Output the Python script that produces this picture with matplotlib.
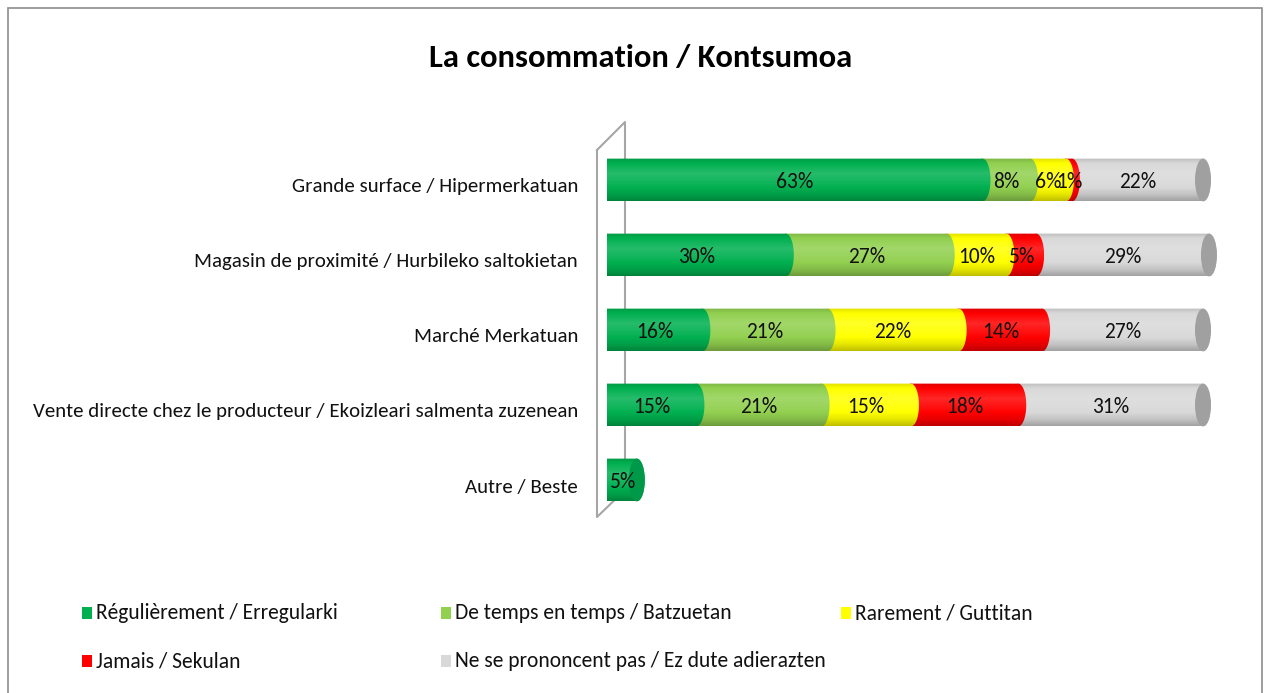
import numpy as np
import matplotlib.pyplot as plt
from matplotlib.patches import Polygon, Ellipse, Rectangle
from matplotlib.lines import Line2D
from matplotlib.colors import to_rgb

plt.rcParams['font.family'] = ['Carlito', 'Asap Condensed', 'DejaVu Sans']

# Data
categories = [
    "Grande surface / Hipermerkatuan",
    "Magasin de proximité / Hurbileko saltokietan",
    "Marché Merkatuan",
    "Vente directe chez le producteur / Ekoizleari salmenta zuzenean",
    "Autre / Beste",
]
series_names = [
    "Régulièrement / Erregularki",
    "De temps en temps / Batzuetan",
    "Rarement / Guttitan",
    "Jamais / Sekulan",
    "Ne se prononcent pas / Ez dute adierazten",
]
regulierement = [63, 30, 16, 15, 5]
de_temps = [8, 27, 21, 21, 0]
rarement = [6, 10, 22, 15, 0]
jamais = [1, 5, 14, 18, 0]
nsp = [22, 29, 27, 31, 0]
series_values = [regulierement, de_temps, rarement, jamais, nsp]
colors = ["#00B050", "#92D050", "#FFFF00", "#FF0000", "#D9D9D9"]
face_colors = ["#00994A", "#7DBB40", "#E0E000", "#D00000", "#A0A0A0"]

W, H = 1266, 693
fig = plt.figure(figsize=(W / 100, H / 100), dpi=100)

def fx(px):
    return px / W

def fy(py):
    return 1 - py / H

# axes: 0% at x=607px, 5.96px per %, rows 75px apart centred at 180px
px_per = 5.96
xmax = 104
ax = fig.add_axes([fx(607), fy(517.5), xmax * px_per / W, 375 / H])
ax.axis("off")

bar_h = 0.57
hh = bar_h / 2
rx = 8 / px_per  # cap radius in data units

# vertical shading profile of the cylinder (top -> bottom)
t = np.linspace(0, 1, 60)
shade = np.interp(t, [0, 0.12, 0.35, 0.6, 0.85, 1], [-0.12, 0.0, 0.15, 0.05, -0.1, -0.25])

def gradient(base):
    c = np.array(to_rgb(base))
    img = np.empty((len(t), 1, 3))
    for i, s in enumerate(shade):
        if s >= 0:
            img[i, 0] = c + (1 - c) * s
        else:
            img[i, 0] = c * (1 + s)
    return img

theta = np.linspace(-np.pi / 2, np.pi / 2, 40)
ys = np.arange(len(categories))
lefts = np.zeros(len(categories))
all_lefts = []
for vals in series_values:
    all_lefts.append(lefts.copy())
    lefts = lefts + np.array(vals)

# draw right-to-left so each segment's rounded end overlaps the next one
for k in range(len(series_values) - 1, -1, -1):
    vals = series_values[k]
    z = 10 - 2 * k
    bars = ax.barh(ys, vals, left=all_lefts[k], height=bar_h,
                   color=colors[k], zorder=z, linewidth=0)
    img = gradient(colors[k])
    for bar in bars:
        l, w = bar.get_x(), bar.get_width()
        if w <= 0:
            continue
        yc = bar.get_y() + bar.get_height() / 2
        r = l + w
        right = np.column_stack([r + rx * np.cos(theta), yc + hh * np.sin(theta)])
        left = np.column_stack([l - rx * np.cos(theta[::-1]), yc + hh * np.sin(theta[::-1])])
        shape = Polygon(np.vstack([right, left]), closed=True, transform=ax.transData)
        im = ax.imshow(img, extent=(l - rx, r + rx, yc + hh, yc - hh),
                       aspect="auto", zorder=z + 0.5, interpolation="bilinear")
        im.set_clip_path(shape)
        im.set_clip_box(None)
        if w >= 1:
            ax.text(l + w / 2, yc + 0.03, f"{w:.0f}%", ha="center", va="center",
                    fontsize=15.5, color="#111111", zorder=30)

# visible end face of each cylinder
for i in range(len(categories)):
    row = [series_values[k][i] for k in range(len(series_values))]
    last = max(k for k in range(len(row)) if row[k] > 0)
    end = sum(row)
    ax.add_patch(Ellipse((end, i), 2 * rx, bar_h, facecolor=face_colors[last],
                         edgecolor="none", zorder=20, clip_on=False))

ax.set_xlim(0, xmax)
ax.set_ylim(4.5, -0.5)

# category labels
for i, cat in enumerate(categories):
    fig.text(fx(578), fy(180 + 75 * i + 7), cat, ha="right", va="center",
             fontsize=15, color="#111111")

# back wall
wall = [(597, 150), (625, 122), (625, 490), (597, 517), (597, 150)]
fig.add_artist(Line2D([fx(p[0]) for p in wall], [fy(p[1]) for p in wall],
                      color="#A6A6A6", lw=1.5, zorder=0))

# title
fig.text(fx(641), fy(58), "La consommation / Kontsumoa", ha="center", va="center",
         fontsize=23.5, fontweight="bold", color="#000000")

# legend
legend_pos = [(82, 613), (441, 613), (841, 613), (82, 661), (441, 661)]
for name, col, (px, py) in zip(series_names, colors, legend_pos):
    fig.add_artist(Rectangle((fx(px), fy(py + 6)), 10 / W, 12 / H,
                             facecolor=col, edgecolor="none"))
    fig.text(fx(px + 14), fy(py), name, ha="left", va="center",
             fontsize=15.5, color="#111111")

# outer frame
fig.add_artist(Rectangle((fx(8), fy(700)), (1262 - 8) / W, (700 - 8) / H,
                         facecolor="none", edgecolor="#8C8C8C", lw=1.2))

fig.savefig("out.png", dpi=100)
